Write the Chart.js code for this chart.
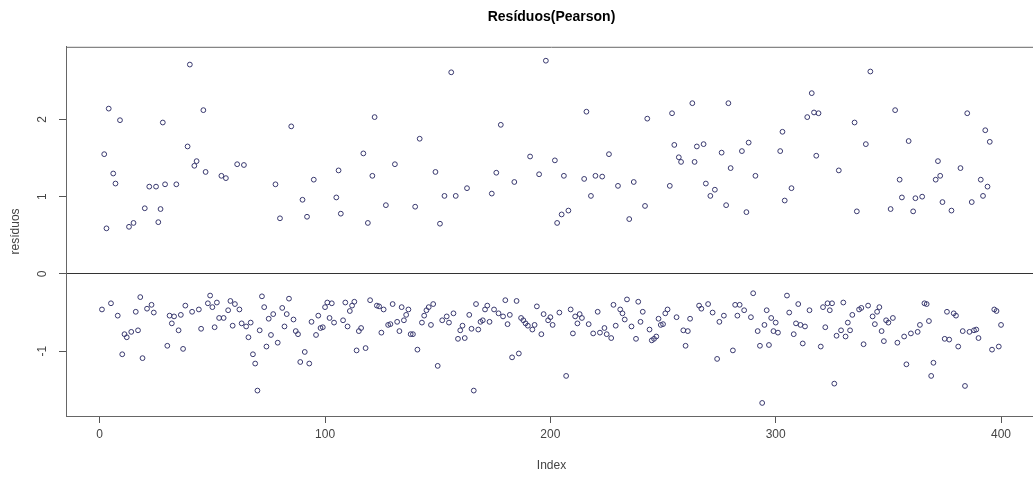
<!DOCTYPE html>
<html>
<head>
<meta charset="utf-8">
<script src="https://cdn.jsdelivr.net/npm/chart.js@4.4.1/dist/chart.umd.min.js"></script>
<style>
  html, body { margin: 0; padding: 0; background: #fff; overflow: hidden; }
  #wrap { width: 1033px; height: 477px; overflow: hidden; }
</style>
</head>
<body>
<div id="wrap"><canvas id="myChart" width="1071" height="477"></canvas></div>
<script>
// --------------
// DATA
// --------------
const titulo = "Resíduos(Pearson)";
const xTitulo = "Index";
const yTitulo = "resíduos";
const xTicks = [0, 100, 200, 300, 400];
const yTicks = [-1, 0, 1, 2];
const xRange = [-14.96, 415.96];
const yRange = [-1.839, 2.94];

// one residual per observation, index 1..400
const residuos = [
  -0.46, 1.55, 0.59, 2.14, -0.38, 1.30, 1.17, -0.54, 1.99, -1.04,
  -0.78, -0.82, 0.61, -0.75, 0.66, -0.49, -0.73, -0.30, -1.09, 0.85,
  -0.45, 1.13, -0.40, -0.50, 1.13, 0.67, 0.84, 1.96, 1.16, -0.93,
  -0.54, -0.64, -0.55, 1.16, -0.73, -0.53, -0.97, -0.41, 1.65, 2.71,
  -0.49, 1.40, 1.46, -0.46, -0.71, 2.12, 1.32, -0.38, -0.28, -0.43,
  -0.69, -0.37, -0.57, 1.27, -0.57, 1.24, -0.47, -0.35, -0.67, -0.39,
  1.42, -0.46, -0.64, 1.41, -0.68, -0.82, -0.63, -1.04, -1.16, -1.51,
  -0.73, -0.29, -0.43, -0.94, -0.58, -0.79, -0.52, 1.16, -0.89, 0.72,
  -0.44, -0.68, -0.52, -0.32, 1.91, -0.59, -0.74, -0.78, -1.14, 0.96,
  -1.01, 0.74, -1.16, -0.62, 1.22, -0.79, -0.54, -0.70, -0.69, -0.43,
  -0.37, -0.57, -0.38, -0.63, 0.99, 1.34, 0.78, -0.60, -0.37, -0.68,
  -0.48, -0.41, -0.36, -0.99, -0.74, -0.70, 1.56, -0.96, 0.66, -0.34,
  1.27, 2.03, -0.41, -0.42, -0.76, -0.46, 0.89, -0.66, -0.65, -0.39,
  1.42, -0.62, -0.74, -0.43, -0.60, -0.53, -0.46, -0.78, -0.78, 0.87,
  -0.98, 1.75, -0.63, -0.54, -0.47, -0.43, -0.66, -0.39, 1.32, -1.19,
  0.65, -0.60, 1.01, -0.55, -0.63, 2.61, -0.51, 1.01, -0.84, -0.73,
  -0.67, -0.83, 1.11, -0.53, -0.71, -1.51, -0.39, -0.72, -0.62, -0.60,
  -0.46, -0.41, -0.62, 1.04, -0.46, 1.31, -0.51, 1.93, -0.55, -0.34,
  -0.65, -0.53, -1.08, 1.19, -0.35, -1.03, -0.57, -0.60, -0.64, -0.67,
  1.52, -0.72, -0.66, -0.42, 1.29, -0.78, -0.52, 2.76, -0.60, -0.56,
  -0.66, 1.47, 0.66, -0.50, 0.77, 1.27, -1.32, 0.82, -0.46, -0.77,
  -0.55, -0.64, -0.52, -0.57, 1.23, 2.10, -0.65, 1.01, -0.77, 1.27,
  -0.49, -0.76, 1.26, -0.70, -0.78, 1.55, -0.83, -0.40, -0.67, 1.14,
  -0.46, -0.51, -0.59, -0.33, 0.71, -0.68, 1.19, -0.84, -0.36, -0.62,
  -0.49, 0.88, 2.01, -0.72, -0.86, -0.84, -0.81, -0.58, -0.66, -0.65,
  -0.51, -0.46, 1.14, 2.08, 1.67, -0.56, 1.51, 1.45, -0.73, -0.93,
  -0.74, -0.58, 2.21, 1.45, 1.65, -0.41, -0.45, 1.68, 1.17, -0.39,
  1.01, -0.50, 1.09, -1.10, -0.62, 1.57, -0.54, 0.89, 2.21, 1.37,
  -0.99, -0.40, -0.54, -0.40, 1.59, -0.47, 0.80, 1.70, -0.56, -0.25,
  1.27, -0.74, -0.93, -1.67, -0.66, -0.47, -0.92, -0.57, -0.74, -0.63,
  -0.76, 1.59, 1.84, 0.95, -0.28, -0.50, 1.11, -0.78, -0.64, -0.39,
  -0.66, -0.90, -0.68, 2.03, -0.47, 2.34, 2.09, 1.53, 2.08, -0.94,
  -0.43, -0.69, -0.38, -0.47, -0.38, -1.42, -0.80, 1.34, -0.73, -0.37,
  -0.81, -0.63, -0.73, -0.53, 1.96, 0.81, -0.46, -0.44, -0.91, 1.68,
  -0.41, 2.62, -0.55, -0.65, -0.49, -0.43, -0.74, -0.87, -0.60, -0.63,
  0.84, -0.57, 2.12, -0.89, 1.22, 0.99, -0.81, -1.17, 1.72, -0.77,
  0.81, 0.98, -0.75, -0.66, 1.00, -0.38, -0.39, -0.61, -1.32, -1.15,
  1.22, 1.46, 1.27, 0.93, -0.84, -0.49, -0.85, 0.82, -0.51, -0.54,
  -0.94, 1.37, -0.74, -1.45, 2.08, -0.75, 0.93, -0.73, -0.72, -0.83,
  1.22, 1.01, 1.86, 1.13, 1.71, -0.98, -0.46, -0.48, -0.94, -0.66
];

// --------------
// PLUGIN: R-style box top + vertical y tick labels
// --------------
const rStyle = {
  id: 'rStyle',
  afterDraw(chart) {
    const { ctx, chartArea: a } = chart;
    const y = chart.scales.y;
    ctx.save();
    ctx.strokeStyle = '#666';
    ctx.lineWidth = 1;
    ctx.beginPath();
    ctx.moveTo(a.left, a.top + 0.5);
    ctx.lineTo(a.right, a.top + 0.5);
    ctx.lineTo(a.right, a.bottom);
    ctx.stroke();

    ctx.fillStyle = '#444';
    ctx.font = '12px "Liberation Sans", Arial, sans-serif';
    ctx.textAlign = 'center';
    ctx.textBaseline = 'middle';
    yTicks.forEach(v => {
      ctx.save();
      ctx.translate(43, y.getPixelForValue(v));
      ctx.rotate(-Math.PI / 2);
      ctx.fillText(String(v), 0, 0);
      ctx.restore();
    });
    ctx.restore();
  }
};

Chart.defaults.font.family = '"Liberation Sans", Arial, sans-serif';

const ctx = document.getElementById('myChart').getContext('2d');
new Chart(ctx, {
  type: 'scatter',
  data: {
    datasets: [{
      data: residuos.map((v, i) => ({ x: i + 1, y: v })),
      pointStyle: 'circle',
      pointRadius: 2.4,
      pointBorderWidth: 1,
      borderColor: '#38386e',
      backgroundColor: 'rgba(0,0,0,0)'
    }]
  },
  options: {
    responsive: false,
    animation: false,
    layout: { padding: { right: 34 } },
    plugins: {
      legend: { display: false },
      tooltip: { enabled: false },
      title: {
        display: true,
        text: titulo,
        fullSize: false,
        color: '#000',
        font: { size: 14, weight: 'bold' },
        padding: { top: 9, bottom: 21 }
      }
    },
    scales: {
      x: {
        type: 'linear',
        min: xRange[0],
        max: xRange[1],
        afterBuildTicks: s => { s.ticks = xTicks.map(v => ({ value: v })); },
        afterFit: s => { s.height = 61; },
        grid: { drawOnChartArea: false, drawTicks: true, tickLength: 7, tickColor: '#555' },
        border: { display: true, color: '#666', width: 1 },
        ticks: { color: '#444', font: { size: 12 }, padding: 4, maxRotation: 0, autoSkip: false },
        title: { display: true, text: xTitulo, color: '#444', font: { size: 12 }, padding: { top: 0, bottom: 4 } }
      },
      y: {
        type: 'linear',
        min: yRange[0],
        max: yRange[1],
        afterBuildTicks: s => { s.ticks = yTicks.map(v => ({ value: v })); },
        afterFit: s => { s.width = 66; },
        grid: {
          drawTicks: true,
          tickLength: 7,
          tickColor: '#555',
          color: c => (c.tick && c.tick.value === 0) ? '#333' : 'rgba(0,0,0,0)'
        },
        border: { display: true, color: '#666', width: 1 },
        ticks: { color: 'rgba(0,0,0,0)', font: { size: 12 }, padding: 4 },
        title: { display: true, text: yTitulo, color: '#444', font: { size: 12 }, padding: { top: 8, bottom: 0 } }
      }
    }
  },
  plugins: [rStyle]
});
</script>
</body>
</html>
